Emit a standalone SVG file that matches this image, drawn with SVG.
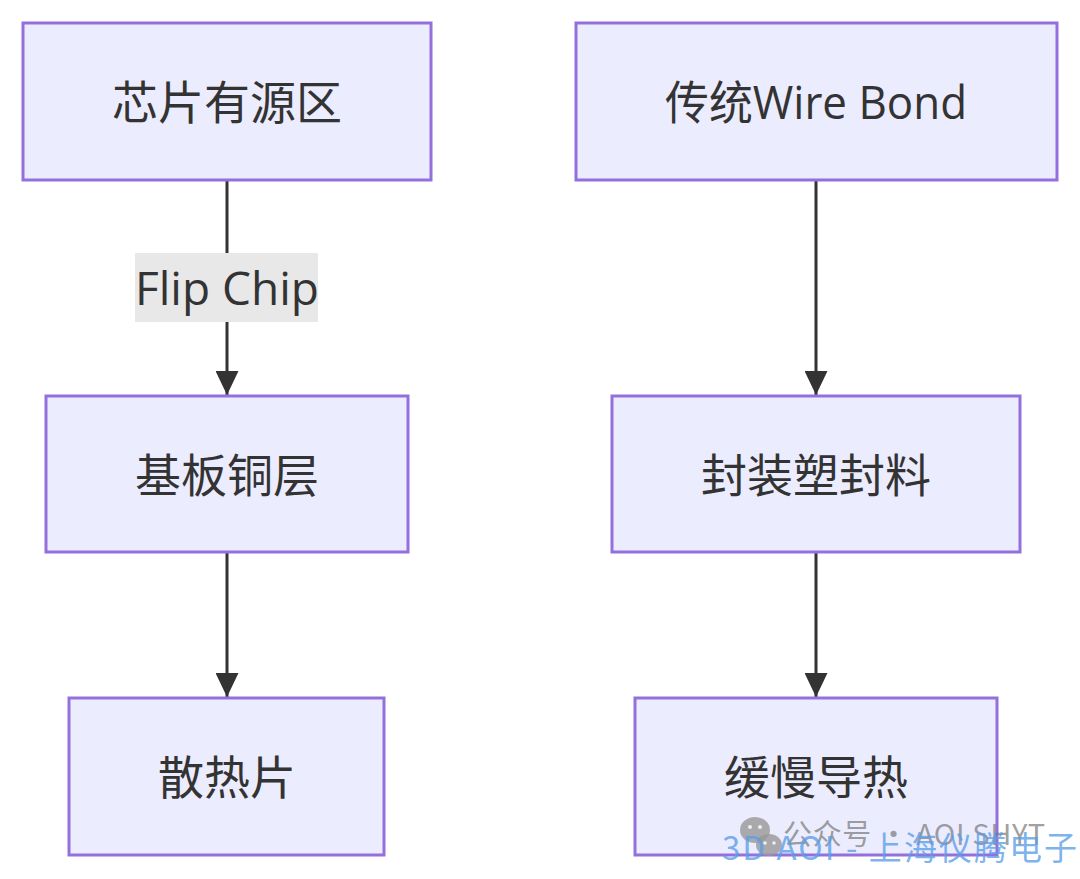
<svg xmlns="http://www.w3.org/2000/svg" width="1080" height="879" viewBox="0 0 1080 879">
<defs>
<style>
.node rect{fill:#ECECFF;stroke:#9370DB;stroke-width:3}
.lbl{font-family:"Open Sans","Noto Sans CJK SC",sans-serif;font-size:46px;fill:#333;text-anchor:middle;dominant-baseline:central}
.edge{stroke:#333;stroke-width:3;fill:none}
.wm1{font-family:"Noto Sans CJK SC","Noto Sans",sans-serif;font-size:29px;fill:#777;fill-opacity:0.7}
.wm2{font-family:"Noto Sans CJK SC","Noto Sans",sans-serif;font-size:33px;fill:#5b9ee8;fill-opacity:0.8}
</style>
<marker id="arrow" viewBox="0 0 24 23" refX="24" refY="11.5" markerWidth="24" markerHeight="23" markerUnits="userSpaceOnUse" orient="auto">
<path d="M0,0 L24,11.5 L0,23 Z" fill="#333"/>
</marker>
</defs>
<rect width="1080" height="879" fill="#fff"/>
<g id="connectors">
<line class="edge" x1="227" y1="181" x2="227" y2="395" marker-end="url(#arrow)"/>
<line class="edge" x1="227" y1="553" x2="227" y2="697" marker-end="url(#arrow)"/>
<line class="edge" x1="816" y1="181" x2="816" y2="395" marker-end="url(#arrow)"/>
<line class="edge" x1="816" y1="553" x2="816" y2="697" marker-end="url(#arrow)"/>
<g id="edge-label-flipchip">
<rect x="135" y="253" width="183" height="69" fill="#e8e8e8"/>
<text class="lbl" x="227" y="287">Flip Chip</text>
</g>
</g>
<g id="n1" class="node"><rect x="23" y="23" width="408" height="157"/><text class="lbl" x="227" y="101">芯片有源区</text></g>
<g id="n2" class="node"><rect x="576" y="23" width="481" height="157"/><text class="lbl" x="816" y="101" textLength="302" lengthAdjust="spacingAndGlyphs">传统Wire Bond</text></g>
<g id="n3" class="node"><rect x="46" y="396" width="362" height="156"/><text class="lbl" x="227" y="474">基板铜层</text></g>
<g id="n4" class="node"><rect x="612" y="396" width="408" height="156"/><text class="lbl" x="816" y="474">封装塑封料</text></g>
<g id="n5" class="node"><rect x="69" y="698" width="315" height="157"/><text class="lbl" x="227" y="776">散热片</text></g>
<g id="n6" class="node"><rect x="635" y="698" width="362" height="157"/><text class="lbl" x="816" y="776">缓慢导热</text></g>
<g id="watermark">
<g fill="#999" fill-opacity="0.8">
<ellipse cx="755" cy="830" rx="15" ry="13"/>
<ellipse cx="769" cy="845" rx="13" ry="11"/>
</g>
<g fill="#eee">
<circle cx="750" cy="827" r="2"/><circle cx="760" cy="827" r="2"/>
<circle cx="765" cy="843" r="1.8"/><circle cx="774" cy="843" r="1.8"/>
</g>
<text class="wm1" x="783" y="845" textLength="262" lengthAdjust="spacing">公众号 · AOI SHYT</text>
<text class="wm2" x="722" y="860" textLength="355" lengthAdjust="spacing">3D AOI - 上海仪腾电子</text>
</g>
</svg>
